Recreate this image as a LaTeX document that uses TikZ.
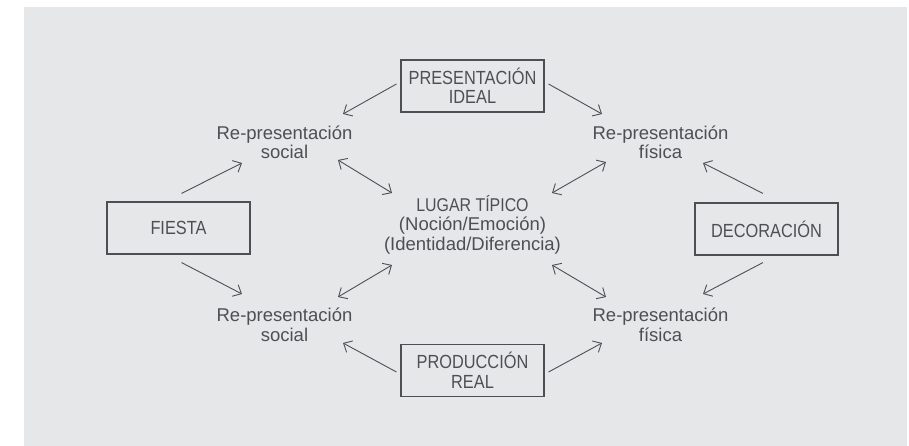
\documentclass[tikz,border=0pt]{standalone}
\usepackage{fontspec}
\setmainfont{Liberation Sans}
\newfontfamily\capsf{Liberation Sans}[FakeStretch=0.86]
\usetikzlibrary{arrows.meta}

\definecolor{bggray}{HTML}{E6E7E9}
\definecolor{ink}{HTML}{4D4F53}

\tikzset{
  txt/.style={align=center, inner sep=0pt, text=ink,
    font=\fontsize{18.5}{19.5}\selectfont},
  box/.style={draw=ink, line width=1.1pt, minimum width=143pt,
    minimum height=52pt, inner sep=0pt, align=center, text=ink,
    font=\capsf\fontsize{19}{19.5}\selectfont},
  arr/.style={draw=ink, line width=0.9pt,
    -{Straight Barb[length=7pt,width=13pt]}},
  darr/.style={draw=ink, line width=0.9pt,
    {Straight Barb[length=7pt,width=13pt]}-{Straight Barb[length=7pt,width=13pt]}}
}

\begin{document}
\begin{tikzpicture}[x=1pt,y=1pt]
            \useasboundingbox (-472.5,-218) rectangle (436.5,228);
            \fill[bggray] (-448.5,-218) rectangle (434.5,221);

            % boxes
            \node[box] (ideal) at (0,142) {PRESENTACIÓN\\IDEAL};
            \node[box] (prod) at (0,-142.5) {PRODUCCIÓN\\REAL};
            \node[box] (fiesta) at (-294,0) {FIESTA};
            \node[box] (decor) at (294,-1) {DECORACIÓN};

            % re-presentaciones
            \node[txt] (socA) at (-188,85.5) {Re-presentación\\social};
            \node[txt] (fisA) at (188,85.5) {Re-presentación\\física};
            \node[txt] (socB) at (-188,-97) {Re-presentación\\social};
            \node[txt] (fisB) at (188,-97) {Re-presentación\\física};

            % centro
            \node[txt] (lugar) at (0,3.5) {{\capsf LUGAR TÍPICO}\\(Noción/Emoción)\\(Identidad/Diferencia)};

            % flechas
            \draw[arr] ([shift={(-4,2)}]ideal.west) -- ([shift={(58.5,28.5)}]socA.center);
            \draw[arr] ([shift={(4,2)}]ideal.east) -- ([shift={(-58.5,28.5)}]fisA.center);
            \draw[arr] ([shift={(3,8)}]fiesta.north) -- ([shift={(-42.5,-20.5)}]socA.center);
            \draw[arr] ([shift={(3,-8)}]fiesta.south) -- ([shift={(-42.5,31)}]socB.center);
            \draw[arr] ([shift={(-3.5,9)}]decor.north) -- ([shift={(42.5,-20.5)}]fisA.center);
            \draw[arr] ([shift={(-3.5,-7)}]decor.south) -- ([shift={(42.5,31)}]fisB.center);
            \draw[arr] ([shift={(-4,-1.5)}]prod.west) -- ([shift={(58.5,-18)}]socB.center);
            \draw[arr] ([shift={(4,-1.5)}]prod.east) -- ([shift={(-58.5,-18)}]fisB.center);

            \draw[darr] ([shift={(53.5,-17.5)}]socA.center) -- ([shift={(-80.5,31.5)}]lugar.center);
            \draw[darr] ([shift={(-54.5,-19.5)}]fisA.center) -- ([shift={(79.5,31.5)}]lugar.center);
            \draw[darr] ([shift={(53.5,28)}]socB.center) -- ([shift={(-80.5,-40.5)}]lugar.center);
            \draw[darr] ([shift={(-54.5,28)}]fisB.center) -- ([shift={(79.5,-40.5)}]lugar.center);
\end{tikzpicture}
\end{document}
